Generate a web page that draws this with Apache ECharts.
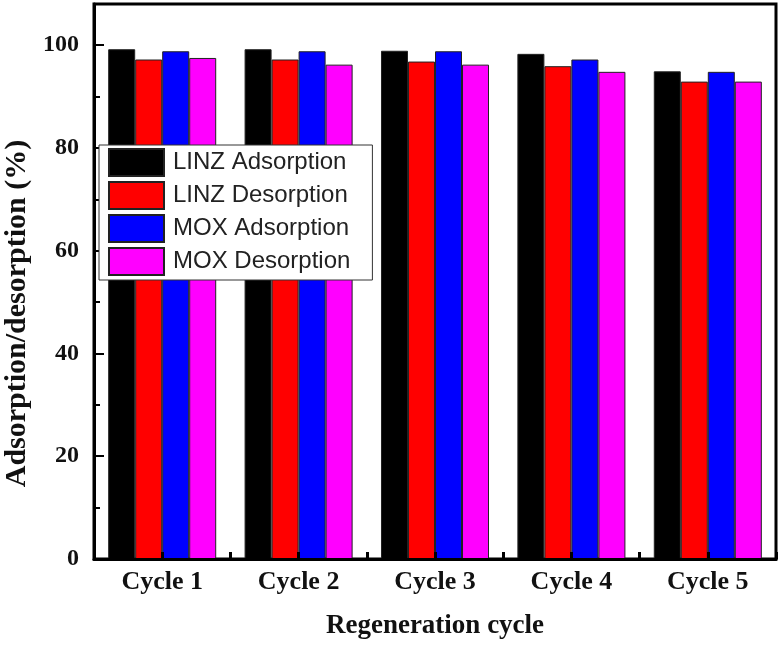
<!DOCTYPE html>
<html>
<head>
<meta charset="utf-8">
<script src="https://cdn.jsdelivr.net/npm/echarts@6/dist/echarts.min.js"></script>
<style>
  html, body { margin: 0; padding: 0; background: #fff; }
  #chart { width: 779px; height: 645px; }
</style>
</head>
<body>
<div id="chart"></div>
<script>
// values
const cycles = ['Cycle 1', 'Cycle 2', 'Cycle 3', 'Cycle 4', 'Cycle 5']
const linzAdsorption = [99.2, 99.2, 98.9, 98.3, 94.9]
const linzDesorption = [97.2, 97.2, 96.8, 95.9, 92.9]
const moxAdsorption = [98.8, 98.8, 98.8, 97.2, 94.8]
const moxDesorption = [97.5, 96.2, 96.2, 94.8, 92.9]
const yTicks = [0, 20, 40, 60, 80, 100]

const serif = '"Times New Roman", "Liberation Serif", serif'
const sans = 'Arial, "Liberation Sans", sans-serif'

const chart = echarts.init(document.getElementById('chart'))

const bar = (name, data, color) => ({
  name: name,
  type: 'bar',
  xAxisIndex: 0,
  data: data,
  barGap: '0%',
  barCategoryGap: '20.8%',
  itemStyle: { color: color, borderColor: '#222', borderWidth: 1 },
})

const option = {
  animation: false,
  grid: {
    left: 94, right: 3, top: 4, bottom: 86,
    outerBoundsMode: 'none',
    containLabel: false,
    show: true, borderColor: '#000', borderWidth: 3,
  },
  legend: {
    orient: 'vertical',
    left: 99, top: 145,
    icon: 'rect',
    itemWidth: 55, itemHeight: 27, itemGap: 4,
    padding: [3, 22, 4, 9],
    backgroundColor: '#fff',
    borderColor: '#333', borderWidth: 1,
    textStyle: { fontFamily: sans, fontSize: 24, color: '#222', padding: [0, 0, 0, 4] },
    z: 10,
  },
  xAxis: [
    {
      type: 'category',
      data: cycles,
      position: 'bottom',
      axisLine: { lineStyle: { color: '#000', width: 3 } },
      axisTick: { show: true, inside: true, alignWithLabel: true, length: 7, lineStyle: { color: '#000', width: 3 } },
      axisLabel: { fontFamily: serif, fontWeight: 'bold', fontSize: 26, color: '#111', margin: 10 },
      name: 'Regeneration cycle',
      nameLocation: 'middle',
      nameGap: 54,
      nameTextStyle: { fontFamily: serif, fontWeight: 'bold', fontSize: 27, color: '#111' },
      z: 5,
    },
    {
      type: 'category',
      data: cycles,
      position: 'bottom',
      axisLine: { show: false },
      axisTick: { show: true, inside: true, length: 7, lineStyle: { color: '#000', width: 3 } },
      axisLabel: { show: false },
      z: 5,
    },
  ],
  yAxis: {
    type: 'value',
    min: 0, max: 108, interval: 20,
    axisLine: { show: true, lineStyle: { color: '#000', width: 3 } },
    axisTick: { show: true, inside: true, length: 10, lineStyle: { color: '#000', width: 2 } },
    minorTick: { show: true, splitNumber: 2, length: 6, lineStyle: { color: '#000', width: 2 } },
    splitLine: { show: false },
    axisLabel: {
      fontFamily: serif, fontWeight: 'bold', fontSize: 24, color: '#111', margin: 15,
      formatter: v => (yTicks.includes(v) ? String(v) : ''),
    },
    name: 'Adsorption/desorption (%)',
    nameLocation: 'middle',
    nameGap: 62,
    nameTextStyle: { fontFamily: serif, fontWeight: 'bold', fontSize: 30, color: '#111', padding: [0, 64, 0, 0] },
    z: 5,
  },
  series: [
    bar('LINZ Adsorption', linzAdsorption, '#000000'),
    bar('LINZ Desorption', linzDesorption, '#ff0000'),
    bar('MOX Adsorption', moxAdsorption, '#0000ff'),
    bar('MOX Desorption', moxDesorption, '#ff00ff'),
  ],
}

chart.setOption(option)
</script>
</body>
</html>
